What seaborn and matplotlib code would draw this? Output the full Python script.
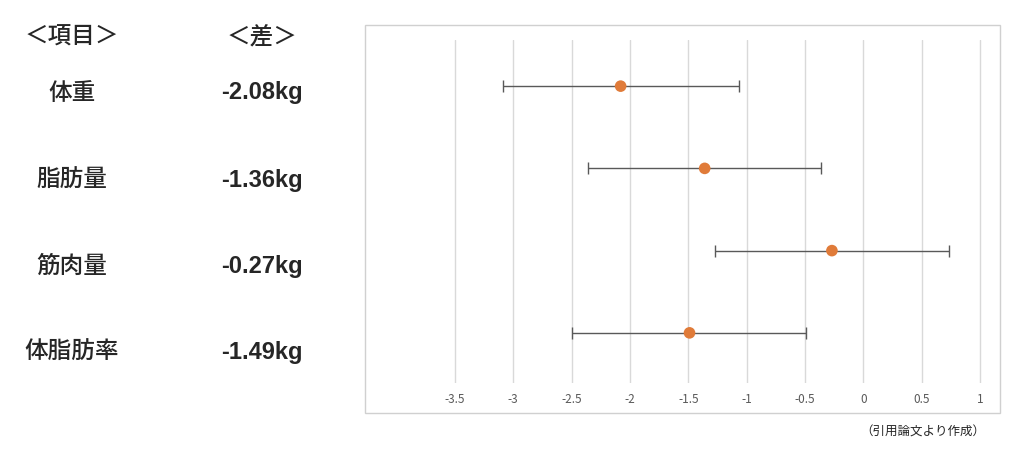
import matplotlib
matplotlib.use("Agg")
import matplotlib.pyplot as plt
import seaborn as sns
import pandas as pd
from matplotlib.patches import Rectangle

items = ["体重", "脂肪量", "筋肉量", "体脂肪率"]
diffs = [-2.08, -1.36, -0.27, -1.49]
lower = [-3.09, -2.36, -1.27, -2.50]
upper = [-1.07, -0.36, 0.73, -0.49]
diff_labels = ["-2.08kg", "-1.36kg", "-0.27kg", "-1.49kg"]
xticks = [-3.5, -3, -2.5, -2, -1.5, -1, -0.5, 0, 0.5, 1]

sns.set_theme(style="white")
plt.rcParams['font.family'] = ['Noto Sans CJK JP', 'DejaVu Sans']

W, H = 1024, 450
fig = plt.figure(figsize=(W/100, H/100), dpi=100)
fig.patches.append(Rectangle((365/W, (H-413)/H), 635/W, 388/H, transform=fig.transFigure,
                             fill=False, edgecolor="#d0d0d0", lw=1))
ax = fig.add_axes([365/W, (H-383)/H, 635/W, 343/H])
df = pd.DataFrame({"y": range(len(items)), "x": diffs})
ax.set_xlim(-4.27, 1.17)
ax.set_ylim(3 + 50/82, -46/82)
for t in xticks:
    ax.axvline(t, color="#d9d9d9", lw=1, zorder=0)
ax.errorbar(diffs, range(len(items)),
            xerr=[[d - l for d, l in zip(diffs, lower)], [u - d for d, u in zip(diffs, upper)]],
            fmt="none", ecolor="#595959", elinewidth=1, capsize=4, capthick=1, zorder=2)
sns.scatterplot(data=df, x="x", y="y", color="#E07B39", s=70, edgecolor="none", ax=ax, zorder=3)
ax.set_xticks(xticks)
ax.set_xticklabels([f"{t:g}" for t in xticks], fontsize=8.5, color="#595959")
ax.tick_params(axis="x", length=0, pad=7)
ax.set_yticks([])
ax.set_xlabel(""); ax.set_ylabel("")
for s in ax.spines.values():
    s.set_visible(False)

fig.text(72/W, 1-37/H, "＜項目＞", fontsize=17, ha="center", va="center", weight="medium")
fig.text(262/W, 1-37/H, "＜差＞", fontsize=17, ha="center", va="center", weight="medium")
ys = [93, 180, 266, 352]
for it, dl, yy in zip(items, diff_labels, ys):
    fig.text(72/W, 1-yy/H, it, fontsize=17, ha="center", va="center", weight="medium")
    fig.text(262/W, 1-yy/H, dl, fontsize=17, ha="center", va="center", weight="semibold",
             family=['Liberation Sans', 'DejaVu Sans'])
fig.text(985/W, 1-432/H, "（引用論文より作成）", fontsize=9, ha="right", va="center")
fig.savefig("out.png", dpi=100, facecolor="white")
